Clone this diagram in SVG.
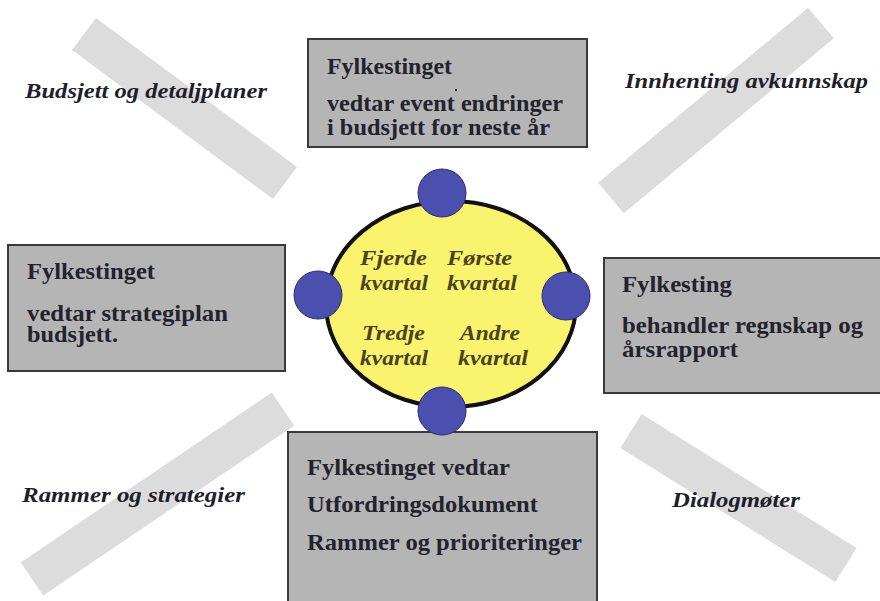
<svg xmlns="http://www.w3.org/2000/svg" width="880" height="601" viewBox="0 0 880 601">
<style>
.bar{stroke:#dcdcdc;stroke-width:40;stroke-linecap:butt;fill:none}
.box{fill:#b5b5b5;stroke:#3a3a3a;stroke-width:2}
.bt{font-family:"Liberation Serif","Times New Roman",serif;font-weight:bold;font-size:23px;fill:#23232e}
.lbl{font-family:"Liberation Serif","Times New Roman",serif;font-weight:bold;font-style:italic;font-size:22px;fill:#1e1e2c}
.q{font-family:"Liberation Serif","Times New Roman",serif;font-weight:bold;font-style:italic;font-size:21px;fill:#4a4220}
.dot{fill:#4b50ae;stroke:#2a2d70;stroke-width:1}
</style>
<rect width="880" height="601" fill="#ffffff"/>
<g id="bars">
<line class="bar" x1="84" y1="34" x2="285" y2="183"/>
<line class="bar" x1="821" y1="23" x2="611" y2="198"/>
<line class="bar" x1="283" y1="409" x2="32" y2="579"/>
<line class="bar" x1="631" y1="431" x2="846" y2="565"/>
</g>
<g id="labels">
<text class="lbl" x="25" y="98" textLength="242" lengthAdjust="spacingAndGlyphs">Budsjett og detaljplaner</text>
<text class="lbl" x="625" y="88" textLength="243" lengthAdjust="spacingAndGlyphs">Innhenting avkunnskap</text>
<text class="lbl" x="22" y="502" textLength="223" lengthAdjust="spacingAndGlyphs">Rammer og strategier</text>
<text class="lbl" x="672" y="507" textLength="128" lengthAdjust="spacingAndGlyphs">Dialogmøter</text>
</g>
<g id="box-top">
<rect class="box" x="308" y="39" width="279" height="108"/>
<text class="bt" x="327" y="74" textLength="125" lengthAdjust="spacingAndGlyphs">Fylkestinget</text>
<text class="bt" x="327" y="111" textLength="236" lengthAdjust="spacingAndGlyphs">vedtar event endringer</text>
<text class="bt" x="327" y="135" textLength="223" lengthAdjust="spacingAndGlyphs">i budsjett for neste år</text>
<rect x="455" y="89" width="2" height="2" fill="#23232e"/>
</g>
<g id="box-left">
<rect class="box" x="8" y="245" width="277" height="126"/>
<text class="bt" x="27" y="279" textLength="128" lengthAdjust="spacingAndGlyphs">Fylkestinget</text>
<text class="bt" x="27" y="321" textLength="201" lengthAdjust="spacingAndGlyphs">vedtar strategiplan</text>
<text class="bt" x="27" y="342" textLength="91" lengthAdjust="spacingAndGlyphs">budsjett.</text>
</g>
<g id="box-right">
<rect class="box" x="604" y="258" width="280" height="135"/>
<text class="bt" x="622" y="292" textLength="110" lengthAdjust="spacingAndGlyphs">Fylkesting</text>
<text class="bt" x="622" y="333" textLength="241" lengthAdjust="spacingAndGlyphs">behandler regnskap og</text>
<text class="bt" x="622" y="357" textLength="116" lengthAdjust="spacingAndGlyphs">årsrapport</text>
</g>
<g id="box-bottom">
<rect class="box" x="288" y="432" width="309" height="175"/>
<text class="bt" x="307" y="475" textLength="203" lengthAdjust="spacingAndGlyphs">Fylkestinget vedtar</text>
<text class="bt" x="307" y="512" textLength="231" lengthAdjust="spacingAndGlyphs">Utfordringsdokument</text>
<text class="bt" x="307" y="550" textLength="275" lengthAdjust="spacingAndGlyphs">Rammer og prioriteringer</text>
</g>
<g id="cycle">
<ellipse cx="451" cy="304" rx="125" ry="103" fill="#faf36e" stroke="#111" stroke-width="4"/>
<circle class="dot" cx="442" cy="193" r="24"/>
<circle class="dot" cx="318" cy="295" r="24"/>
<circle class="dot" cx="566" cy="296" r="24"/>
<circle class="dot" cx="442" cy="411" r="24"/>
<text class="q" x="360" y="265" textLength="67" lengthAdjust="spacingAndGlyphs">Fjerde</text>
<text class="q" x="360" y="290" textLength="68" lengthAdjust="spacingAndGlyphs">kvartal</text>
<text class="q" x="447" y="265" textLength="65" lengthAdjust="spacingAndGlyphs">Første</text>
<text class="q" x="447" y="290" textLength="70" lengthAdjust="spacingAndGlyphs">kvartal</text>
<text class="q" x="362" y="340" textLength="63" lengthAdjust="spacingAndGlyphs">Tredje</text>
<text class="q" x="360" y="365" textLength="68" lengthAdjust="spacingAndGlyphs">kvartal</text>
<text class="q" x="460" y="340" textLength="60" lengthAdjust="spacingAndGlyphs">Andre</text>
<text class="q" x="458" y="365" textLength="70" lengthAdjust="spacingAndGlyphs">kvartal</text>
</g>
</svg>
